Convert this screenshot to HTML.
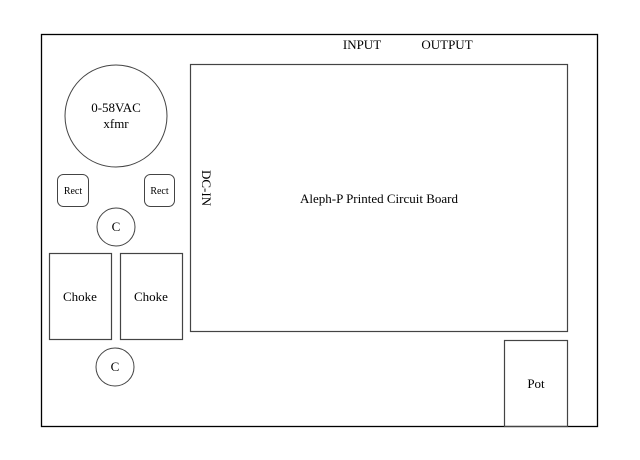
<!DOCTYPE html>
<html><head><style>html,body{margin:0;padding:0;background:#fff}svg{display:block}text{font-family:"Liberation Serif","DejaVu Serif",serif}</style></head>
<body>
<svg width="640" height="460" xmlns="http://www.w3.org/2000/svg" font-size="13" fill="#000">
<rect x="41.5" y="34.5" width="556" height="392" fill="#fff" stroke="#000" stroke-width="1.3"/>
<rect x="190.5" y="64.5" width="377" height="267" fill="none" stroke="#444" stroke-width="1.2"/>
<rect x="504.5" y="340.5" width="63" height="86" fill="none" stroke="#444" stroke-width="1.2"/>
<rect x="49.5" y="253.5" width="62" height="86" fill="none" stroke="#444" stroke-width="1.2"/>
<rect x="120.5" y="253.5" width="62" height="86" fill="none" stroke="#444" stroke-width="1.2"/>
<circle cx="116" cy="116" r="51" fill="none" stroke="#444"/>
<rect x="57.5" y="174.5" width="31" height="32" rx="6" fill="none" stroke="#444"/>
<rect x="144.5" y="174.5" width="30" height="32" rx="6" fill="none" stroke="#444"/>
<circle cx="116" cy="227" r="19" fill="none" stroke="#444"/>
<circle cx="115" cy="367" r="19" fill="none" stroke="#444"/>
<text x="362" y="49" text-anchor="middle">INPUT</text>
<text x="447" y="49" text-anchor="middle">OUTPUT</text>
<text x="116" y="112" text-anchor="middle">0-58VAC</text>
<text x="116" y="128" text-anchor="middle">xfmr</text>
<text x="73" y="194" text-anchor="middle" font-size="10">Rect</text>
<text x="159.5" y="194" text-anchor="middle" font-size="10">Rect</text>
<text x="116" y="231" text-anchor="middle">C</text>
<text x="115" y="371" text-anchor="middle">C</text>
<text x="80" y="301" text-anchor="middle">Choke</text>
<text x="151" y="301" text-anchor="middle">Choke</text>
<text x="536" y="388" text-anchor="middle">Pot</text>
<text x="379" y="203" text-anchor="middle">Aleph-P Printed Circuit Board</text>
<text transform="translate(202,188) rotate(90)" text-anchor="middle">DC-IN</text>
</svg>
</body></html>
